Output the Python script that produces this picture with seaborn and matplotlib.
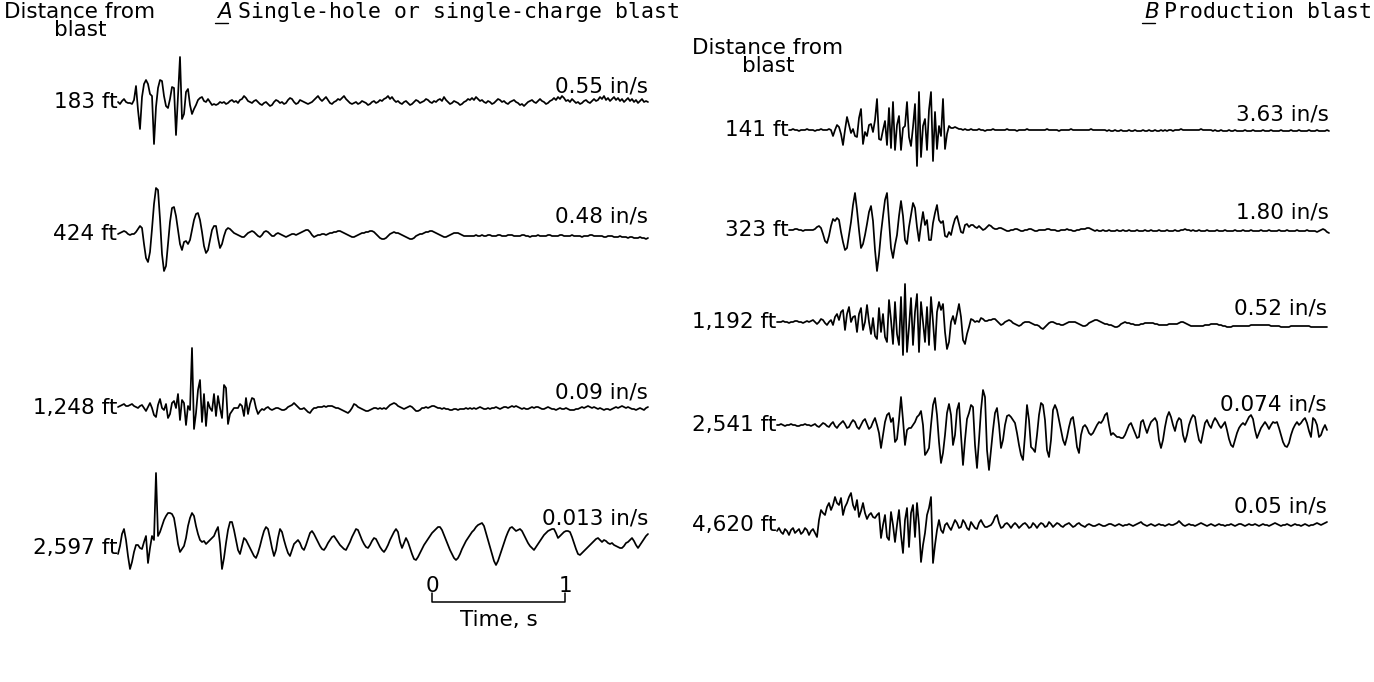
import numpy as np
import pandas as pd
import matplotlib
matplotlib.use("Agg")
import matplotlib.pyplot as plt
from matplotlib.lines import Line2D
import seaborn as sns

# ---------------- data (velocity records, relative amplitude) ----------------
DT = 0.015  # s, sample interval of the digitised records

a_distances = ["183 ft", "424 ft", "1,248 ft", "2,597 ft"]
a_peaks = ["0.55 in/s", "0.48 in/s", "0.09 in/s", "0.013 in/s"]
a_t0 = [0.0, 0.0, 0.0, 0.0]

b_distances = ["141 ft", "323 ft", "1,192 ft", "2,541 ft", "4,620 ft"]
b_peaks = ["3.63 in/s", "1.80 in/s", "0.52 in/s", "0.074 in/s", "0.05 in/s"]
b_t0 = [0.09, 0.09, 0.0, 0.0, 0.0]

a_183 = [0,-2,1,3,0,-1,-1,-2,2,16,
         -8,-27,5,18,22,18,8,6,-42,-5,
         14,22,21,6,-4,-6,3,15,14,-33,
         6,45,-17,-12,10,13,-3,-12,-7,-3,
         2,4,5,1,0,3,0,-3,-2,-3,
         -2,0,-1,0,-2,-1,1,2,0,1,
         -1,2,3,6,4,1,0,-1,1,2,
         0,-2,-3,-1,0,-2,-4,-3,0,2,
         1,-1,0,-2,-1,2,4,3,0,-2,
         -1,2,1,0,-1,-2,-1,
         0,2,4,6,3,1,3,5,2,-1,
         -2,0,1,3,2,4,6,3,1,-1,
         -2,-1,0,-2,-1,1,0,-1,-3,-2,
         0,1,-1,0,2,1,3,4,6,3,
         5,2,0,1,-1,-2,0,1,-1,-3,
         -2,0,2,1,-1,0,1,3,2,0,
         -1,1,0,2,3,1,5,2,0,-2,
         -1,1,0,-1,-3,-2,0,1,3,2,
         4,2,5,3,1,2,0,-1,1,0,
         -2,-1,1,3,2,0,1,-1,-2,0,
         1,2,0,-1,-3,-2,-4,-2,0,1,
         2,0,-1,1,3,1,0,-2,-1,1,
         2,4,2,5,3,6,4,1,2,0,
         3,1,-1,0,-2,-1,1,2,0,-1,
         1,3,1,2,5,3,6,2,4,1,
         3,5,2,4,1,3,0,2,4,1,
         3,0,2,-1,1,3,0,1,0]

a_424 = [0,1,2,3,2,0,-1,0,0,2,
         5,8,6,-10,-24,-28,-18,5,30,46,
         44,15,-20,-37,-32,-10,12,26,27,18,
         4,-10,-16,-8,-7,-10,-6,4,14,20,
         21,14,2,-12,-19,-16,-6,4,8,8,
         -4,-14,-10,-2,4,6,5,3,1,0,
         -1,-2,-3,-3,-1,1,2,3,2,0,
         -2,-3,-1,2,3,2,0,-2,-2,0,
         1,0,-1,-2,-3,-2,-1,0,0,-1,
         0,1,2,3,4,4,2,-1,-3,-2,
         -1,-1,0,0,-1,0,1,1,2,2,
         3,3,2,1,0,-1,-2,-3,-3,-2,
         -1,0,1,1,2,2,3,3,2,0,
         -2,-4,-5,-5,-4,-2,0,1,2,1,
         1,0,-1,-2,-3,-4,-5,-5,-4,-2,
         -1,0,0,1,2,2,3,3,2,1,
         0,-1,-2,-3,-3,-2,-1,0,1,1,
         1,0,-1,-2,-2,-2,-2,-2,-2,-1,
         -2,-2,-1,-2,-2,-1,-1,-2,-2,-2,
         -1,-1,-2,-2,-2,-1,-1,-1,-2,-2,
         -2,-2,-1,-1,-2,-2,-3,-2,-2,-2,
         -1,-2,-2,-2,-2,-1,-1,-2,-2,-2,
         -2,-1,-1,-2,-2,-2,-2,-1,-2,-2,
         -2,-2,-3,-2,-2,-2,-1,-1,-2,-2,
         -2,-2,-2,-3,-3,-2,-2,-2,-3,-3,
         -3,-2,-3,-3,-3,-4,-3,-3,-4,-4,
         -4,-3,-4,-4,-5,-4]

a_1248 = [1,2,3,4,2,2,3,4,2,1,
          0,2,3,0,-3,1,5,0,-7,-9,
          3,9,0,-2,4,-10,-6,5,7,0,
          14,-12,8,5,-17,2,-2,60,-21,-5,
          18,28,-14,14,-18,6,0,-3,14,-8,
          12,0,-10,23,20,-16,-6,-3,0,0,
          0,4,2,-8,10,-6,4,10,9,0,
          -6,-3,-1,-2,0,1,-1,-2,-1,0,
          0,-1,-2,-2,-1,1,2,3,5,3,
          1,-1,-1,0,-2,-4,-5,-2,0,0,
          1,1,1,2,1,2,2,2,1,0,
          0,-1,-2,-3,-4,-5,-3,0,4,3,
          1,0,-1,-2,-3,-3,-2,-1,0,0,
          -1,0,-1,0,-1,1,3,4,5,4,
          2,1,0,-1,0,1,2,1,-1,-3,
          -3,-2,0,0,1,0,1,2,2,1,
          0,0,-1,0,-1,-1,-2,-2,-1,-1,
          -2,-1,-1,-1,0,-1,0,-1,
          0,-1,0,1,0,-1,-1,0,-1,0,
          0,1,0,-1,0,1,1,0,1,2,
          1,2,1,0,-1,0,-1,-1,0,1,
          0,1,1,0,-1,-1,0,1,0,-1,
          -1,-2,-1,0,-1,-1,0,-1,-2,-2,
          -2,-1,-1,0,1,0,1,2,1,0,
          1,0,-1,0,-1,-2,-1,-1,-2,-1,
          0,1,0,1,2,1,0,1,0,-1,
          -1,-2,-1,0,-1,-2,0,1]

a_2597 = [-6,2,14,19,8,-8,-21,-14,-4,3,
          3,0,-1,6,12,-15,0,12,8,75,
          12,16,22,28,32,35,35,34,30,18,
          4,-4,-1,2,10,22,30,35,32,22,
          14,8,6,7,4,6,8,10,12,17,
          21,4,-21,-10,5,18,26,26,18,8,
          -2,-6,2,10,8,4,0,-4,-8,-10,
          -5,2,10,17,21,19,10,0,-8,-2,
          10,19,16,8,1,-5,-8,-2,4,6,
          8,5,0,-2,3,9,15,17,14,10,
          6,2,-1,-2,1,5,8,11,12,9,
          6,3,1,-1,-2,2,6,11,15,19,
          18,13,8,4,1,0,3,7,10,9,
          5,1,-2,-4,-1,3,8,12,16,19,
          16,6,0,5,10,6,0,-6,-11,-12,
          -9,-5,-1,3,6,9,12,15,17,19,
          21,21,18,13,8,3,-2,-6,-10,-12,
          -10,-6,-1,3,7,10,13,16,18,21,
          23,24,25,22,15,8,1,-6,-13,-17,
          -13,-7,-1,5,11,16,20,21,19,17,
          18,19,17,13,9,5,2,0,-2,1,
          4,7,10,13,15,17,18,19,19,15,
          10,12,14,16,17,17,16,11,5,-1,
          -6,-7,-5,-3,-1,1,3,5,7,9,
          10,8,6,8,7,5,4,5,3,2,
          1,0,0,2,5,6,8,10,7,3,
          0,3,6,9,12,14]

b_141 = [0,0,1,0,0,-1,0,0,0,1,0,0,0,-1,0,0,1,0,0,0,1,
         0,-6,0,5,3,-4,-15,0,13,5,
         -3,1,-6,-7,12,21,-14,-2,-6,5,
         6,-2,10,31,-9,-10,0,9,-15,22,
         -18,28,-20,5,14,-20,2,4,28,-7,
         -16,3,26,-36,38,-27,4,11,-20,20,
         38,-31,18,-19,4,-6,31,-19,-4,4,
         2,2,3,2,1,1,0,
         1,0,0,1,0,0,0,1,0,0,-1,0,0,0,1,0,0,0,0,
         0,0,1,0,0,0,0,-1,0,0,0,0,1,0,0,0,0,0,0,
         0,0,0,1,0,0,0,0,0,-1,0,0,0,0,0,1,0,0,0,
         0,0,0,0,0,0,1,0,0,0,0,0,0,0,-1,0,-1,-1,0,
         -1,-1,0,-1,-1,-1,0,-1,-1,0,-1,-1,-1,0,-1,-1,0,-1,-1,
         0,-1,-1,0,-1,0,-1,0,0,-1,0,0,0,1,0,0,0,0,0,
         0,0,0,0,1,0,0,0,0,0,-1,0,-1,-1,0,-1,-1,-1,0,
         -1,-1,0,-1,-1,-1,-1,0,-1,-1,-1,0,-1,-1,-1,-1,0,-1,-1,
         -1,0,-1,-1,-1,-1,0,-1,-1,-1,-1,0,-1,-1,-1,0,-1,-1,-1,
         -1,0,-1,-1,-1,0,-1,-1,-1,-1,0,-1]

b_323 = [0,0,0,1,1,0,0,-1,0,0,0,0,
         0,1,3,4,2,-4,-11,-13,-6,4,
         11,9,12,10,-2,-12,-20,-18,-5,8,
         25,37,20,0,-18,-14,-5,6,18,24,
         9,-20,-41,-25,-3,14,30,37,10,-18,
         -28,-15,-5,14,29,14,-10,-14,3,15,
         27,22,3,-11,5,18,5,10,-10,-10,
         7,17,25,10,7,9,-6,-7,-2,-5,
         4,11,14,6,-2,-3,5,6,3,5,
         5,3,2,4,2,0,1,3,5,4,
         2,1,1,2,2,1,0,-1,-1,0,
         0,1,1,0,-1,-1,0,0,1,1,
         0,-1,-1,0,0,0,
         0,1,1,0,0,0,-1,-1,0,0,0,1,0,0,-1,-1,0,0,1,1,
         1,2,2,1,0,-1,0,-1,-1,0,-1,-1,0,-1,-1,-1,0,-1,-1,0,
         -1,-1,0,-1,-1,-1,0,-1,-1,-1,0,-1,-1,0,-1,-1,-1,0,-1,-1,
         -1,0,-1,-1,-1,0,-1,-1,0,0,1,0,0,-1,0,-1,-1,0,-1,-1,
         -1,0,-1,-1,-1,-1,0,-1,-1,-1,0,-1,-1,-1,-1,0,-1,-1,-1,0,
         -1,-1,-1,0,-1,-1,-1,-1,0,-1,-1,-1,0,-1,-1,-1,-1,0,-1,-1,
         -1,0,-1,-1,-1,-1,0,-1,-1,-1,-1,0,-1,-1,-1,-1,-2,-1,0,1,
         0,-2,-3]

b_1192 = [0,0,0,1,0,0,-1,0,0,1,
          1,0,0,-1,0,1,0,1,2,0,
          -2,0,3,2,-1,-3,0,2,-3,5,
          8,2,10,12,-8,8,15,0,5,6,
          -10,8,14,-8,0,17,0,-12,4,-14,
          -17,14,-10,8,-15,-20,22,2,-22,20,
          -12,-23,25,-33,38,-30,-5,24,-23,10,
          28,-30,20,0,-20,15,-23,25,0,-28,
          10,20,12,18,-10,-27,-20,0,6,-2,
          8,18,5,-18,-22,-12,-5,3,2,0,
          1,0,4,3,1,1,2,2,3,3,
          1,-1,-3,-2,0,1,2,1,-1,-2,
          -3,-4,-3,-1,0,0,0,-1,-2,-3,
          -3,-4,-6,-7,-5,-3,-1,0,0,-1,
          -2,-2,-3,-3,-2,-1,0,0,0,0,
          -1,-2,-3,-4,-4,-3,-1,0,1,2,
          2,1,0,-1,-2,-2,-3,-3,-4,-5,
          -5,-4,-2,-1,0,-1,-1,-2,-2,-3,
          -3,-3,-2,-2,-1,-1,-1,-1,-1,-2,
          -2,-3,-3,-3,-3,-3,-2,-2,-2,-2,
          -2,-1,0,0,-1,-2,-3,-4,-4,-4,
          -4,-4,-4,-4,-3,-3,-3,-2,-2,-2,
          -2,-3,-3,-4,-4,-5,-5,-5,-4,-4,
          -4,-4,-4,-4,-4,-4,-4,-3,-3,-3,
          -3,-3,-3,-3,-3,-3,-3,-4,-4,-4,
          -4,-4,-5,-5,-5,-5,-5,-4,-4,-4,
          -4,-4,-4,-4,-4,-4,-4,-5,-5,-5,
          -5,-5,-5,-5,-5,-5]

b_2541 = [0,0,1,0,-1,0,0,1,0,0,-1,-1,0,0,1,0,0,-1,
          0,1,-1,-2,0,2,1,-1,-2,1,3,-1,
          -3,0,2,4,1,-3,-2,2,5,3,-2,-4,
          0,4,6,1,-4,-2,3,7,0,-8,
          -23,-10,3,10,12,3,7,-17,-14,5,
          28,5,-20,-5,-3,-3,0,3,8,10,
          14,0,-30,-27,-23,0,20,27,10,-17,
          -38,-28,-10,12,21,10,-20,-10,15,22,
          -10,-40,-15,6,12,20,18,-20,-43,-15,
          15,35,28,-25,-45,-25,-5,12,17,0,
          -23,-15,0,9,10,8,5,2,-8,-20,
          -30,-35,-10,20,5,-22,-24,-27,-10,10,
          22,20,5,-25,-32,-15,15,20,15,5,
          -5,-15,-20,-12,-2,6,8,-5,-22,-28,
          -10,-2,0,-3,-8,-10,-8,-4,0,3,
          2,5,10,12,0,-10,-8,-10,-12,-12,
          -13,-13,-10,-5,0,2,-3,-8,-13,-12,
          3,5,-2,-8,-2,3,5,7,3,-15,
          -23,-15,-2,8,13,8,0,-6,3,7,
          5,-10,-17,-10,0,6,10,8,-5,-15,
          -18,-8,2,5,0,-3,3,7,4,0,
          -3,0,3,-5,-14,-20,-22,-15,-8,-3,
          0,2,0,4,8,10,6,-5,-13,-8,
          -3,0,3,0,-4,0,3,2,3,-3,
          -10,-17,-21,-22,-18,-10,-4,0,3,0,
          2,5,7,2,-6,-12,7,5,0,-12,
          -10,-4,0,-5]

b_4620 = [-6,-3,-7,-9,-4,-6,-10,-5,-3,-8,-6,-4,-9,-7,-3,-5,-10,-6,-4,-8,-12,
          5,15,12,10,18,22,15,20,28,22,
          20,27,10,18,22,28,32,20,15,25,
          8,14,22,12,6,10,12,8,7,10,
          12,-13,0,10,-12,-15,13,0,-17,0,
          15,-10,-28,5,17,-22,12,20,-12,22,
          0,-37,-20,-8,10,17,28,-38,-20,-5,
          5,-5,-8,0,2,-2,-5,0,5,2,
          -3,-2,5,2,-3,-5,3,0,-3,-4,
          2,5,1,-2,-2,-1,0,3,8,10,
          2,-3,-2,1,2,0,-3,0,2,0,
          -3,-1,1,2,0,-3,-2,2,0,-3,
          0,2,1,-2,-1,3,1,-2,
          0,2,1,-1,-2,0,1,2,0,-2,-1,1,2,0,-1,-2,0,1,0,-1,
          -1,0,1,0,-1,-1,0,1,1,0,-1,0,1,0,-1,0,0,1,0,-1,
          0,1,2,3,1,0,-1,0,1,0,-1,0,1,0,0,-1,0,1,0,0,
          1,2,4,2,0,-1,0,1,0,0,-1,0,1,2,1,0,-1,0,1,0,
          -1,0,1,0,0,-1,0,0,1,0,-1,0,1,1,0,-1,0,1,0,0,
          1,0,-1,0,1,0,0,-1,0,1,2,1,0,-1,0,0,1,0,-1,0,
          1,0,0,-1,0,1,0,-1,0,0,1,2,1,0,1,2,3]

a_records = [a_183, a_424, a_1248, a_2597]
b_records = [b_141, b_323, b_1192, b_2541, b_4620]

# ---------------- layout (pixels of the 1374 x 682 canvas) ----------------
W, H = 1374, 682
PX_PER_S = 4 / 0.03
A_ORIGIN, B_ORIGIN, SPLIT = 118, 777, 687
a_base = [102, 234, 408, 548]
b_base = [130, 230, 322, 425, 525]
a_peak_dy = [6, 7, 6, 19]
b_peak_dy = [6, 7, 4, 11, 8]


def build(records, t0s, bases, panel):
    rows = []
    for k, (rec, t0, base) in enumerate(zip(records, t0s, bases)):
        v = np.asarray(rec, dtype=float)
        t = t0 + np.arange(len(v)) * DT
        rows.append(pd.DataFrame({"panel": panel, "trace": k, "t": t,
                                  "y": base - v}))
    return pd.concat(rows, ignore_index=True)


df_a = build(a_records, a_t0, a_base, "A")
df_b = build(b_records, b_t0, b_base, "B")

sns.set_style("white")
plt.rcParams["font.family"] = ["DejaVu Sans"]
plt.rcParams["text.color"] = "black"
FS = 15.5
MONO = "DejaVu Sans Mono"

fig = plt.figure(figsize=(W / 100, H / 100), dpi=100)
axA = fig.add_axes([0, 0, SPLIT / W, 1])
axB = fig.add_axes([SPLIT / W, 0, (W - SPLIT) / W, 1])
axA.set_xlim(-A_ORIGIN / PX_PER_S, (SPLIT - A_ORIGIN) / PX_PER_S)
axB.set_xlim((SPLIT - B_ORIGIN) / PX_PER_S, (W - B_ORIGIN) / PX_PER_S)
for ax in (axA, axB):
    ax.set_ylim(H, 0)

for ax, df in ((axA, df_a), (axB, df_b)):
    sns.lineplot(data=df, x="t", y="y", units="trace", estimator=None,
                 sort=False, color="black", linewidth=1.25, ax=ax,
                 legend=False)
    ax.set_axis_off()

for ax, df, labels, peaks, t0s, bases, dys in (
        (axA, df_a, a_distances, a_peaks, a_t0, a_base, a_peak_dy),
        (axB, df_b, b_distances, b_peaks, b_t0, b_base, b_peak_dy)):
    for k, (lab, pk, t0, base, dy) in enumerate(
            zip(labels, peaks, t0s, bases, dys)):
        t_end = df[df.trace == k].t.max()
        ax.text(t0 - 0.006, base, lab, ha="right", va="center", fontsize=FS)
        ax.text(t_end, base - dy, pk, ha="right", va="bottom", fontsize=FS)


def ftext(x, y, s, **kw):
    kw.setdefault("fontsize", FS)
    kw.setdefault("va", "center")
    fig.text(x / W, 1 - y / H, s, **kw)


ftext(80, 21, "Distance from\nblast", ha="center", multialignment="center",
      linespacing=0.88)
ftext(768, 57, "Distance from\nblast", ha="center", multialignment="center",
      linespacing=0.88)
ftext(217, 12, "A", style="italic")
ftext(238, 12, "Single-hole or single-charge blast", family=MONO)
ftext(1144, 12, "B", style="italic")
ftext(1164, 12, "Production blast", family=MONO)
for x0 in (215, 1142):
    fig.add_artist(Line2D([x0 / W, (x0 + 13) / W], [1 - 23 / H, 1 - 23 / H],
                          color="black", linewidth=1.0))

# time scale bar
scale_s = [0, 1]
s0 = (432 - A_ORIGIN) / PX_PER_S
sx = [s0 + scale_s[0], s0 + scale_s[0], s0 + scale_s[1], s0 + scale_s[1]]
axA.plot(sx, [593, 602, 602, 593], color="black", linewidth=1.1)
axA.text(s0 + scale_s[0], 586, "0", ha="center", va="center", fontsize=FS)
axA.text(s0 + scale_s[1], 586, "1", ha="center", va="center", fontsize=FS)
axA.text(s0 + 0.5, 620, "Time, s", ha="center", va="center", fontsize=FS)

fig.savefig("out.png", dpi=100)
